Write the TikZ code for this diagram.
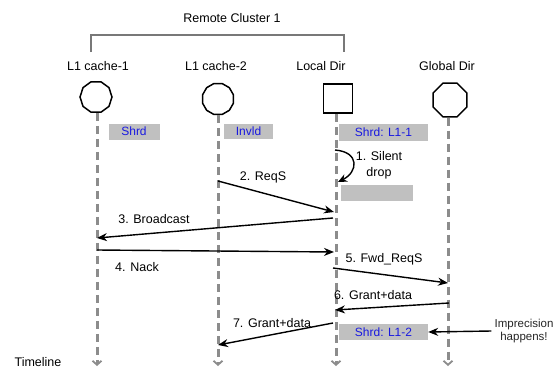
\documentclass[tikz,border=0pt]{standalone}
\usepackage{fontspec}
\setmainfont{Liberation Sans}
\usetikzlibrary{shapes.geometric,arrows.meta}
\definecolor{lifegray}{RGB}{140,140,140}
\definecolor{boxgray}{RGB}{192,192,192}
\definecolor{statblue}{RGB}{25,25,225}
\definecolor{brackgray}{RGB}{120,120,120}
\tikzset{
  lbl/.style={font=\fontsize{12.5}{14}\selectfont, inner sep=0pt},
  agent/.style={draw=black, line width=1.5pt, inner sep=0pt, fill=white},
  lifeline/.style={draw=lifegray, line width=3pt, dash pattern=on 8pt off 5pt,
     -{Straight Barb[length=4pt,width=9pt,line width=1.8pt]}},
  msg/.style={draw=black, line width=1.4pt, -{Stealth[length=10pt,width=8pt]}},
  statebox/.style={fill=boxgray, inner sep=0pt, text=statblue,
     font=\fontsize{12}{14}\selectfont},
}
\begin{document}
\begin{tikzpicture}[x=1pt,y=-1pt]
\useasboundingbox (0,0) rectangle (557,370);
% header
\node[lbl] (rc) at (232,18) {Remote Cluster 1};
\coordinate (bl) at (91,52);
\coordinate (br) at (344,52);
\draw[brackgray, line width=1.5pt] (bl) -- (91,35) -- (344,35) -- (br);
\node[lbl] (t1) at (98,66) {L1 cache-1};
\node[lbl] (t2) at (216,66) {L1 cache-2};
\node[lbl] (t3) at (321,66) {Local Dir};
\node[lbl] (t4) at (447,66) {Global Dir};
% agents
\node[agent, regular polygon, regular polygon sides=10, minimum size=32pt] (c1) at (96,97) {};
\node[agent, regular polygon, regular polygon sides=12, minimum size=32pt] (c2) at (218,99) {};
\node[agent, rectangle, minimum width=29pt, minimum height=29pt] (ld) at (338,98.5) {};
\node[agent, regular polygon, regular polygon sides=8, minimum size=36.5pt] (gd) at (450,100) {};
% lifeline ends
\coordinate (c1e) at (97,366);
\coordinate (c2e) at (218,366);
\coordinate (lde) at (336,366);
\coordinate (gde) at (448,366);
\draw[lifeline] (c1.south -| c1e) -- (c1e);
\draw[lifeline] (c2.south -| c2e) -- (c2e);
\draw[lifeline] (ld.south -| lde) -- (lde);
\draw[lifeline] (gd.south -| gde) -- (gde);
% state boxes
\node[statebox, minimum width=51pt, minimum height=16pt] (s1) at (134,131.5) {Shrd};
\node[statebox, minimum width=49pt, minimum height=15pt] (s2) at (248.5,131) {Invld};
\node[statebox, minimum width=89pt, minimum height=17pt] (s3) at (383.5,132.5) {Shrd: L1-1};
\node[statebox, minimum width=72pt, minimum height=16pt] (s4) at (377,193) {};
\node[statebox, minimum width=89pt, minimum height=16pt] (s5) at (383.5,332) {Shrd: L1-2};
% silent drop
\coordinate (sd1) at (335,150);
\coordinate (sd2) at (338,182);
\draw[msg, -{Stealth[length=9pt,width=8pt]}] (sd1) .. controls (360,152) and (358,172) .. (sd2);
\node[lbl, align=center] (sdl) at (379,165) {1. Silent\\[2pt]drop};
% messages
\coordinate (m2a) at (218,181);
\coordinate (m2b) at (334,212);
\draw[msg] (m2a) -- (m2b);
\node[lbl] (l2) at (263,177) {2. ReqS};
\coordinate (m3a) at (333,218);
\coordinate (m3b) at (97,238);
\draw[msg] (m3a) -- (m3b);
\node[lbl] (l3) at (154,219) {3. Broadcast};
\coordinate (m4a) at (97,250);
\coordinate (m4b) at (334,252);
\draw[msg] (m4a) -- (m4b);
\node[lbl] (l4) at (137,267) {4. Nack};
\coordinate (m5a) at (333,268);
\coordinate (m5b) at (448,283);
\draw[msg] (m5a) -- (m5b);
\node[lbl] (l5) at (384,259) {5. Fwd\_ReqS};
\coordinate (m6a) at (449,303);
\coordinate (m6b) at (335,310);
\draw[msg] (m6a) -- (m6b);
\node[lbl] (l6) at (373,295) {6. Grant+data};
\coordinate (m7a) at (333,323);
\coordinate (m7b) at (218,345);
\draw[msg] (m7a) -- (m7b);
\node[lbl] (l7) at (272,323) {7. Grant+data};
% imprecision
\node[lbl, align=center, font=\fontsize{11.5}{13}\selectfont, text=black!85] (imp) at (524,331) {Imprecision\\happens!};
\draw[msg] (imp.west) ++(-3,0) coordinate (impa) (impa) -- (s5.east);
% timeline
\node[lbl] (tl) at (38,362) {Timeline};
\end{tikzpicture}
\end{document}
